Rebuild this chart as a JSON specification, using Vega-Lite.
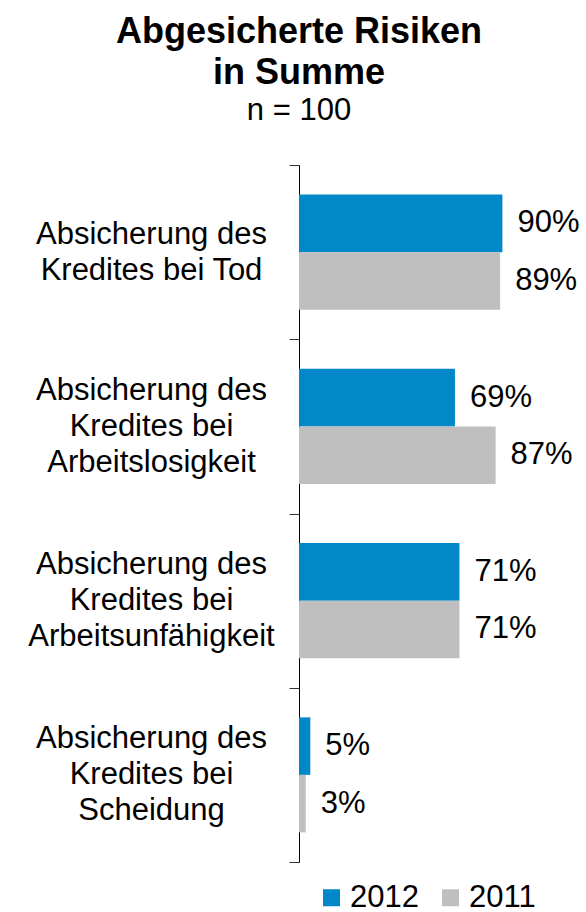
{
  "$schema": "https://vega.github.io/schema/vega-lite/v6.json",
  "autosize": "none",
  "padding": {"left": 299, "top": 165, "right": 61, "bottom": 50},
  "width": 226,
  "height": 697,
  "background": "white",
  "config": {
    "font": "Liberation Sans",
    "view": {"stroke": null}
  },
  "title": {
    "text": ["Abgesicherte Risiken", "in Summe"],
    "subtitle": "n = 100",
    "anchor": "middle",
    "dx": -113,
    "fontSize": 36,
    "fontWeight": "bold",
    "lineHeight": 41,
    "subtitleFontSize": 31,
    "subtitleColor": "black",
    "color": "black",
    "subtitlePadding": 4,
    "offset": 22
  },
  "data": {
    "values": [
      {"kategorie": "Absicherung des|Kredites bei Tod", "jahr": "2012", "wert": 0.90},
      {"kategorie": "Absicherung des|Kredites bei Tod", "jahr": "2011", "wert": 0.89},
      {"kategorie": "Absicherung des|Kredites bei|Arbeitslosigkeit", "jahr": "2012", "wert": 0.69},
      {"kategorie": "Absicherung des|Kredites bei|Arbeitslosigkeit", "jahr": "2011", "wert": 0.87},
      {"kategorie": "Absicherung des|Kredites bei|Arbeitsunfähigkeit", "jahr": "2012", "wert": 0.71},
      {"kategorie": "Absicherung des|Kredites bei|Arbeitsunfähigkeit", "jahr": "2011", "wert": 0.71},
      {"kategorie": "Absicherung des|Kredites bei|Scheidung", "jahr": "2012", "wert": 0.05},
      {"kategorie": "Absicherung des|Kredites bei|Scheidung", "jahr": "2011", "wert": 0.03}
    ]
  },
  "encoding": {
    "y": {
      "field": "kategorie",
      "type": "nominal",
      "sort": null,
      "scale": {"paddingInner": 0, "paddingOuter": 0},
      "axis": {
        "title": null,
        "labelExpr": "split(datum.label, '|')",
        "labelFontSize": 31,
        "labelLineHeight": 36,
        "labelAlign": "center",
        "labelBaseline": "middle",
        "labelPadding": 138,
        "labelOffset": {"condition": {"test": "datum.value == 'Absicherung des|Kredites bei Tod'", "value": -18}, "value": -36},
        "labelColor": "black",
        "labelLimit": 0,
        "tickBand": "extent",
        "tickSize": 10,
        "tickColor": "#333333",
        "domainColor": "black",
        "domainWidth": 1,
        "grid": false
      }
    },
    "yOffset": {
      "field": "jahr",
      "type": "nominal",
      "sort": ["2012", "2011"],
      "scale": {"paddingInner": 0, "paddingOuter": 0.515}
    },
    "x": {
      "field": "wert",
      "type": "quantitative",
      "scale": {"domain": [0, 1]},
      "axis": null
    }
  },
  "layer": [
    {
      "mark": {"type": "bar"},
      "encoding": {
        "color": {
          "field": "jahr",
          "type": "nominal",
          "scale": {"domain": ["2012", "2011"], "range": ["#0088C8", "#BFBFBF"]},
          "legend": {
            "title": null,
            "orient": "none",
            "legendX": 17,
            "legendY": 717,
            "direction": "horizontal",
            "symbolType": "square",
            "symbolSize": 289,
            "symbolStrokeWidth": 0,
            "labelFontSize": 31,
            "labelColor": "black",
            "labelOffset": 3,
            "columnPadding": 16,
            "padding": 0
          }
        }
      }
    },
    {
      "mark": {"type": "text", "align": "left", "baseline": "middle", "dx": 15, "fontSize": 31, "color": "black"},
      "encoding": {
        "text": {"field": "wert", "type": "quantitative", "format": ".0%"}
      }
    }
  ]
}
